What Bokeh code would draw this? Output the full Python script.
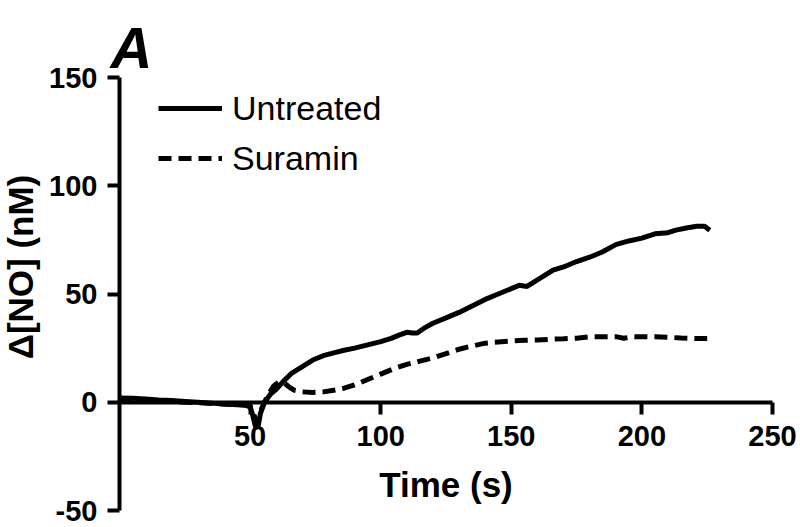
from bokeh.plotting import figure
from bokeh.models import Range1d, FixedTicker, Legend, LegendItem, Label, LinearAxis
from bokeh.embed import file_html
from bokeh.resources import INLINE

# ---- data ----
untreated_t = [0, 5, 10, 15, 20, 25, 30, 35, 40, 45, 48, 50, 51, 52, 53, 54, 55.5,
               58, 60, 63, 66, 70, 74, 78, 82, 86, 90, 95, 100, 104, 107, 110, 112,
               114, 117, 120, 125, 130, 135, 140, 145, 150, 153, 156, 158, 162, 166,
               170, 175, 180, 185, 190, 195, 200, 205, 210, 213, 217, 221, 224, 226]
untreated_v = [2.0, 1.8, 1.5, 1.1, 0.8, 0.4, 0.0, -0.4, -0.8, -1.1, -1.3, -2.0, -6.0,
               -11.0, -11.5, -5.0, 0.0, 4.0, 6.0, 10.0, 13.5, 16.5, 19.5, 21.5, 22.8,
               24.0, 25.0, 26.5, 28.0, 29.5, 31.0, 32.3, 32.0, 32.0, 34.5, 36.5, 39.0,
               41.5, 44.5, 47.5, 50.0, 52.5, 54.0, 53.5, 55.0, 58.0, 61.0, 62.5, 65.0,
               67.0, 69.5, 72.8, 74.5, 75.8, 77.8, 78.3, 79.5, 80.5, 81.3, 81.3, 79.5]

suramin_t = [0, 10, 20, 30, 40, 48, 50, 51.5, 52.5, 54, 55.5, 57, 59, 61, 63, 65, 67,
             70, 74, 78, 82, 86, 90, 95, 100, 105, 110, 115, 120, 125, 130, 135, 140,
             145, 150, 155, 160, 165, 170, 175, 180, 185, 190, 193, 197, 200, 205,
             210, 215, 220, 225]
suramin_v = [1.0, 0.8, 0.3, -0.2, -0.8, -1.3, -2.0, -6.0, -9.0, -4.0, 0.0, 3.5, 7.5,
             9.3, 9.0, 7.0, 5.5, 4.8, 4.5, 4.8, 5.5, 6.5, 8.0, 10.5, 13.0, 15.5, 17.5,
             19.0, 20.5, 22.5, 24.5, 26.0, 27.3, 27.8, 28.3, 28.6, 28.8, 29.1, 29.3,
             29.6, 30.2, 30.2, 30.3, 29.6, 30.3, 30.2, 30.2, 30.0, 29.7, 29.5, 29.4]

x_ticks = [50, 100, 150, 200, 250]
y_ticks = [-50, 0, 50, 100, 150]
series_names = ["Untreated", "Suramin"]

FONT = "Liberation Sans"

# one frame covering the whole canvas; the axes sit at fixed data locations
p = figure(width=800, height=527, output_backend="svg", toolbar_location=None,
           x_range=Range1d(-45.56, 260.72), y_range=Range1d(-57.85, 185.57),
           min_border_left=0, min_border_right=0, min_border_top=0,
           min_border_bottom=0)
p.outline_line_color = None
p.grid.visible = False
p.background_fill_color = "white"
p.border_fill_color = "white"


def style_axis(ax):
    ax.axis_line_width = 4
    ax.axis_line_color = "black"
    ax.major_tick_line_width = 4
    ax.major_tick_line_color = "black"
    ax.major_tick_out = 12
    ax.major_tick_in = 0
    ax.minor_tick_line_color = None
    ax.major_label_text_font = FONT
    ax.major_label_text_font_style = "bold"
    ax.major_label_text_font_size = "29px"
    ax.major_label_text_color = "black"
    ax.axis_label_text_font = FONT
    ax.axis_label_text_font_style = "bold"
    ax.axis_label_text_font_size = "35px"
    ax.axis_label_text_color = "black"


for ax in (p.xaxis[0], p.yaxis[0]):
    style_axis(ax)

p.xaxis.ticker = FixedTicker(ticks=x_ticks)
p.yaxis.ticker = FixedTicker(ticks=y_ticks)
p.yaxis.major_label_overrides = {t: str(t) for t in y_ticks}
p.xaxis.fixed_location = 0
p.yaxis.fixed_location = 0
p.xaxis.bounds = (0, 250)
p.yaxis.bounds = (-50, 150)
p.xaxis.axis_label = "Time (s)"
p.xaxis.major_label_standoff = 12
p.yaxis.major_label_standoff = 10
p.xaxis.axis_label_standoff = 15

# y-axis title carried by a bare axis so it can sit where the original puts it
ylab_axis = LinearAxis(fixed_location=0, bounds=(-25, 150),
                       ticker=FixedTicker(ticks=[]), axis_label="Δ[NO] (nM)",
                       axis_line_color=None, major_tick_line_color=None,
                       minor_tick_line_color=None, major_tick_out=0, minor_tick_out=0,
                       axis_label_standoff=80, axis_label_text_font=FONT,
                       axis_label_text_font_style="bold",
                       axis_label_text_font_size="35px",
                       axis_label_text_color="black")
p.add_layout(ylab_axis, "left")

r1 = p.line(untreated_t, untreated_v, line_color="black", line_width=5)
r2 = p.line(suramin_t, suramin_v, line_color="black", line_width=5, line_dash="13 7")

legend = Legend(items=[LegendItem(label=series_names[0], renderers=[r1]),
                       LegendItem(label=series_names[1], renderers=[r2])],
                location=(158, 349), background_fill_alpha=0, border_line_color=None,
                padding=0, margin=0, spacing=10, glyph_width=64, glyph_height=40,
                label_standoff=10, label_height=40,
                label_text_font=FONT, label_text_font_size="34px",
                label_text_color="black")
p.add_layout(legend)

panel_tag = Label(x=-3.45, y=163.86, text="A", text_font=FONT,
                  text_font_style="bold italic", text_font_size="58px",
                  text_baseline="alphabetic", text_align="left", text_color="black")
p.add_layout(panel_tag)

open("out.html", "w").write(file_html(p, INLINE))
